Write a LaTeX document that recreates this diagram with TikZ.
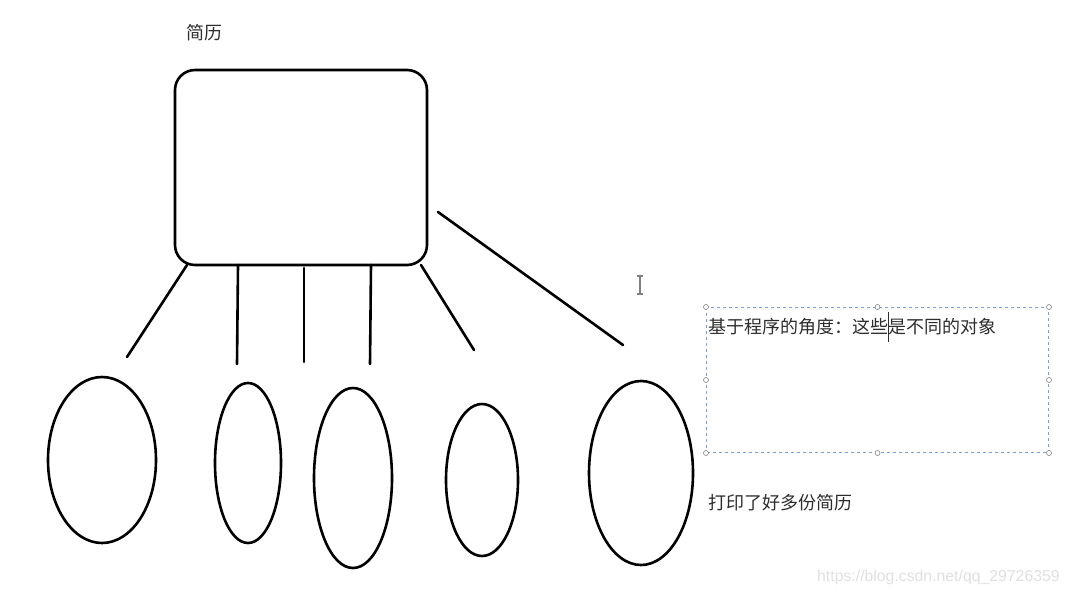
\documentclass[tikz,border=0pt]{standalone}
\usepackage{fontspec}
\setsansfont{Liberation Sans}
\newfontfamily\cjk{Noto Sans CJK SC}
\usepackage{xcolor}
\usetikzlibrary{shapes.geometric,positioning}
\definecolor{dashblue}{RGB}{120,160,210}
\definecolor{inkgray}{RGB}{45,45,45}
\tikzset{
stroke/.style={line width=2.6pt, black, line cap=round}, % the hand drawn lines
oval/.style={ellipse, draw, line width=2.6pt, inner sep=0pt}, % the printed copies
cjktext/.style={font=\cjk\fontsize{18}{20}\selectfont, text=inkgray, inner sep=0pt, anchor=west},
handle/.style={circle, draw=gray, fill=white, line width=0.6pt, inner sep=0pt, minimum size=5pt}
}
\begin{document}
\begin{tikzpicture}[x=1pt,y=-1pt]
    \useasboundingbox (0,0) rectangle (1070,594);
    % the resume template
    \node[cjktext] (title) at (186,33) {简历};
    \node[draw, line width=2.6pt, rounded corners=20pt, minimum width=252pt, minimum height=195pt] (cv) at (301,167.5) {};
    % the copies
    \node[oval, minimum width=108pt, minimum height=166pt] (c1) at (102,460) {};
    \node[oval, minimum width=66pt, minimum height=160pt] (c2) at (248,463) {};
    \node[oval, minimum width=78pt, minimum height=180pt] (c3) at (353,478) {};
    \node[oval, minimum width=72pt, minimum height=152pt] (c4) at (482,480) {};
    \node[oval, minimum width=104pt, minimum height=184pt] (c5) at (641,473) {};
    % where the strokes start and stop
    \coordinate (s1) at (187,265);
    \coordinate (s2) at (238,265);
    \coordinate (s3) at (304,268);
    \coordinate (s4) at (371,265);
    \coordinate (s5) at (421,265);
    \coordinate (s6) at (438,212);
    \coordinate (e1) at (127,357);
    \coordinate (e2) at (237,364);
    \coordinate (e3) at (304,362);
    \coordinate (e4) at (370,364);
    \coordinate (e5) at (474,350);
    \coordinate (e6) at (623,345);
    \foreach \i in {1,...,6}
        \draw[stroke] (s\i) -- (e\i);
    % the selected text box
    \node[draw=dashblue, dash pattern=on 3pt off 3pt, line width=1pt, minimum width=342pt, minimum height=145pt, anchor=north west] (note) at (706,307) {};
    \foreach \a [count=\i] in {north west,north,north east,east,south east,south,south west,west}
        \node[handle] (h\i) at (note.\a) {};
    \node[cjktext] (objs) at (708,327) {基于程序的角度：这些是不同的对象};
    \draw[inkgray, line width=1pt] (888,312) -- (888,342);
    % mouse cursor
    \draw[gray, line width=1.2pt] (640,276) -- (640,294) (637,276) -- (643,276) (637,294) -- (643,294);
    \node[cjktext] (copies) at (708,503) {打印了好多份简历};
    \node[font=\sffamily\fontsize{15.8}{18}\selectfont, text=black!12, inner sep=0pt, anchor=west] (mark) at (817,577) {https://blog.csdn.net/qq\_29726359};
\end{tikzpicture}
\end{document}
